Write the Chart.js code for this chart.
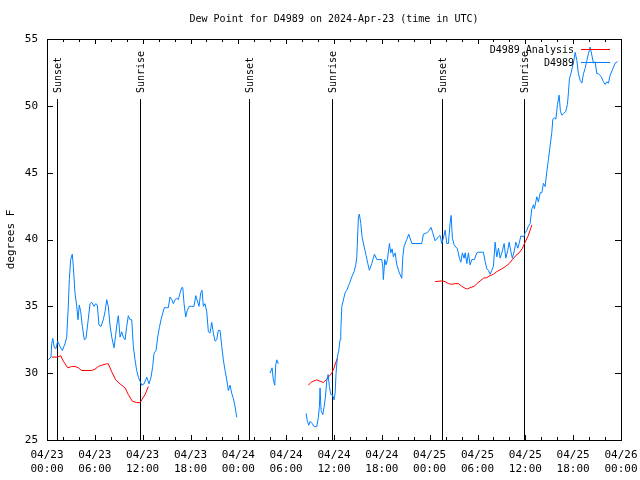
<!DOCTYPE html>
<html>
<head>
<meta charset="utf-8">
<script src="https://cdn.jsdelivr.net/npm/chart.js@4/dist/chart.umd.min.js"></script>
<style>
  html, body { margin: 0; padding: 0; background: #fff; }
  #wrap { width: 640px; height: 480px; }
</style>
</head>
<body>
<div id="wrap"><canvas id="dewChart" width="640" height="480"></canvas></div>
<script>
// hours since 04/23 00:00 UTC
const xTickHours = [0, 6, 12, 18, 24, 30, 36, 42, 48, 54, 60, 66, 72];
const xTickDates = ['04/23', '04/23', '04/23', '04/23', '04/24', '04/24', '04/24', '04/24', '04/25', '04/25', '04/25', '04/25', '04/26'];
const xTickTimes = ['00:00', '06:00', '12:00', '18:00', '00:00', '06:00', '12:00', '18:00', '00:00', '06:00', '12:00', '18:00', '00:00'];

const sunsetHours = [1.29, 25.4, 49.5];
const sunriseHours = [11.67, 35.8, 59.8];

// D4989 observations (null = no data)
const obsHours = [
  0.16, 0.50, 0.59, 0.72, 0.92, 1.13, 1.34, 1.63, 1.92, 2.26,
  2.47, 2.67, 2.80, 2.97, 3.17, 3.30, 3.51, 3.73, 3.89, 4.05,
  4.23, 4.43, 4.68, 4.89, 5.11, 5.40, 5.61, 5.90, 6.11, 6.31,
  6.52, 6.78, 7.06, 7.28, 7.49, 7.69, 7.90, 8.12, 8.41, 8.62,
  8.78, 8.95, 9.16, 9.37, 9.57, 9.79, 10.00, 10.20, 10.41, 10.63,
  10.83, 11.04, 11.25, 11.46, 11.67, 11.88, 12.17, 12.51, 12.80, 13.05,
  13.26, 13.43, 13.68, 13.89, 14.09, 14.30, 14.52, 14.72, 15.02, 15.22,
  15.43, 15.65, 15.85, 16.06, 16.27, 16.47, 16.69, 16.90, 17.03, 17.19,
  17.40, 17.60, 17.85, 18.16, 18.44, 18.66, 18.86, 19.07, 19.28, 19.45,
  19.61, 19.82, 20.04, 20.24, 20.45, 20.66, 20.87, 21.08, 21.29, 21.49,
  21.71, 21.92, 22.12, 22.33, 22.55, 22.75, 22.96, 23.17, 23.38, 23.59,
  23.80, 26.00,
  27.98, 28.23, 28.39, 28.57, 28.69, 28.82, 29.02, 30.50,
  32.50, 32.66, 32.84, 33.00, 33.25, 33.50, 33.84, 34.04, 34.17, 34.25,
  34.38, 34.59, 34.76, 34.92, 35.09, 35.26, 35.42, 35.60, 35.80, 36.01,
  36.14, 36.26, 36.42, 36.60, 36.76, 36.85, 36.98, 37.39, 37.60, 37.93,
  38.23, 38.52, 38.73, 38.86, 39.06, 39.18, 39.36, 39.52, 39.77, 40.03,
  40.24, 40.44, 40.74, 41.07, 41.37, 41.99, 42.12, 42.19, 42.37, 42.53,
  42.70, 42.95, 43.12, 43.29, 43.45, 43.66, 43.88, 44.20, 44.50, 44.63,
  44.79, 45.13, 45.38, 45.76, 47.01, 47.21, 47.64, 47.84, 48.18, 48.39,
  48.68, 49.10, 49.31, 49.52, 49.72, 49.94, 50.15, 50.35, 50.56, 50.69,
  50.85, 51.07, 51.48, 51.73, 51.91, 52.11, 52.32, 52.45, 52.66, 52.86,
  53.07, 53.29, 53.61, 53.91, 54.12, 54.74, 54.96, 55.17, 55.37, 55.58,
  55.80, 56.00, 56.21, 56.42, 56.63, 56.84, 57.05, 57.34, 57.55, 57.80,
  57.97, 58.22, 58.38, 58.63, 58.81, 59.06, 59.22, 59.44, 59.81, 59.97,
  60.19, 60.39, 60.60, 60.82, 61.02, 61.14, 61.44, 61.64, 61.86, 62.07,
  62.27, 62.48, 62.70, 62.90, 63.11, 63.32, 63.45, 63.65, 63.83, 64.03,
  64.24, 64.40, 64.58, 64.78, 65.08, 65.28, 65.41, 65.53, 65.71, 65.91,
  66.09, 66.25, 66.46, 66.66, 66.88, 67.09, 67.29, 67.50, 67.72, 67.92,
  68.13, 68.34, 68.54, 68.76, 68.97, 69.17, 69.51, 69.80, 70.01, 70.23,
  70.43, 70.64, 70.93, 71.27, 71.56
];
const obsDew = [
  31.0, 31.2, 32.2, 32.6, 31.9, 31.85, 32.4, 32.0, 31.7, 32.2,
  32.7, 35.0, 37.0, 38.5, 38.9, 38.0, 36.0, 35.0, 34.0, 35.1,
  34.6, 33.5, 32.5, 32.6, 33.7, 35.2, 35.3, 35.0, 35.2, 35.1,
  33.6, 33.5, 34.0, 34.6, 35.5, 35.0, 33.6, 32.7, 31.9, 32.9,
  33.7, 34.3, 32.7, 33.1, 32.7, 32.5, 33.5, 34.3, 34.0, 34.0,
  32.0, 31.0, 30.2, 29.7, 29.4, 29.1, 29.2, 29.7, 29.2, 29.7,
  30.5, 31.5, 31.7, 32.7, 33.4, 34.0, 34.5, 34.9, 34.9, 34.9,
  35.7, 35.5, 35.2, 35.5, 35.6, 35.5, 36.0, 36.4, 36.4, 35.2,
  34.2, 34.7, 35.0, 35.0, 35.0, 35.8, 35.4, 35.0, 36.0, 36.2,
  35.0, 35.2, 34.6, 33.1, 33.0, 33.8, 33.0, 32.4, 32.5, 33.2,
  33.2, 32.0, 31.0, 30.2, 29.5, 28.7, 29.1, 28.5, 28.1, 27.5,
  26.7, null,
  30.0, 30.4, 29.5, 29.1, 30.6, 31.0, 30.7, null,
  27.0, 26.4, 26.1, 26.4, 26.25, 26.0, 26.0, 26.7, 27.5, 28.9,
  27.2, 26.9, 27.5, 28.2, 29.4, 29.9, 29.0, 28.4, 28.4, 28.0,
  28.5, 30.0, 31.2, 31.7, 32.5, 33.1, 35.0, 36.0, 36.2, 36.7,
  37.2, 37.6, 38.1, 38.7, 41.7, 41.9, 41.2, 40.2, 39.5, 38.8,
  38.2, 37.7, 38.2, 38.9, 38.5, 38.5, 38.0, 37.0, 38.5, 38.1,
  38.5, 39.7, 39.0, 39.3, 38.7, 39.0, 38.1, 37.5, 37.1, 38.7,
  39.5, 40.0, 40.4, 39.7, 39.7, 40.4, 40.5, 40.6, 40.9, 40.5,
  39.9, 40.2, 40.3, 39.7, 40.1, 40.7, 39.7, 39.7, 41.2, 41.8,
  40.1, 39.6, 39.3, 38.6, 38.3, 39.0, 38.6, 39.0, 38.2, 39.0,
  38.1, 38.5, 38.5, 39.0, 39.05, 39.05, 38.35, 37.8, 37.7, 37.4,
  37.7, 38.0, 39.8, 38.7, 39.35, 38.6, 39.0, 39.7, 38.6, 39.2,
  39.8, 39.0, 38.6, 39.2, 39.8, 39.35, 39.7, 40.27, 40.2, 40.5,
  40.7, 41.0, 41.2, 42.3, 42.6, 42.3, 43.2, 42.8, 43.5, 43.5,
  44.2, 43.96, 45.1, 46.0, 47.0, 48.0, 49.0, 49.1, 49.0, 50.1,
  50.8, 49.6, 49.3, 49.4, 49.6, 50.1, 51.0, 52.0, 52.4, 52.9,
  53.4, 54.0, 53.4, 52.4, 51.9, 51.7, 52.4, 52.8, 53.4, 53.9,
  54.4, 53.8, 53.2, 53.3, 52.4, 52.4, 52.2, 51.8, 51.6, 51.8,
  51.7, 52.3, 52.7, 53.2, 53.3
];

// D4989 Analysis
const anaHours = [
  0.59, 1.22, 1.72, 2.05, 2.60, 3.10, 3.51, 3.93, 4.35, 4.77,
  5.61, 6.02, 6.44, 6.86, 7.49, 7.69, 8.12, 8.62, 9.16, 9.79,
  10.20, 10.70, 11.25, 11.67, 11.88, 12.30, 12.71, 20.00,
  32.79, 33.09, 33.41, 33.84, 34.25, 34.67, 35.01, 35.30, 35.72, 36.01,
  36.22, 36.42, 42.00,
  48.68, 49.52, 49.94, 50.35, 50.78, 51.19, 51.61, 52.03, 52.45, 52.74,
  53.07, 53.61, 53.91, 54.33, 54.74, 55.17, 55.58, 56.00, 56.42, 57.05,
  57.55, 57.97, 58.38, 58.81, 59.22, 59.64, 59.97, 60.31, 60.60, 60.82
];
const anaDew = [
  31.2, 31.2, 31.3, 30.9, 30.4, 30.5, 30.5, 30.4, 30.2, 30.2,
  30.2, 30.3, 30.5, 30.6, 30.7, 30.7, 30.1, 29.5, 29.2, 28.9,
  28.4, 27.9, 27.8, 27.8, 28.0, 28.4, 29.0, null,
  29.1, 29.3, 29.4, 29.5, 29.4, 29.3, 29.5, 29.7, 30.0, 30.4,
  30.8, 31.1, null,
  36.85, 36.9, 36.85, 36.7, 36.65, 36.7, 36.7, 36.5, 36.35, 36.3,
  36.4, 36.5, 36.7, 36.9, 37.1, 37.15, 37.3, 37.4, 37.6, 37.8,
  38.0, 38.2, 38.5, 38.8, 39.0, 39.35, 39.8, 40.2, 40.7, 41.1
];

const MONO = '"DejaVu Sans Mono", "Liberation Mono", monospace';
const blue = '#0080ff';
const red = '#ff0000';

function toPoints(hours, vals) {
  return hours.map((h, i) => ({ x: h, y: vals[i] }));
}

// gnuplot-ish frame: inward ticks on all four sides, sunrise/sunset markers, legend
const framePlugin = {
  id: 'frame',
  beforeDatasetsDraw(chart) {
    const { ctx, chartArea: a, scales: { x } } = chart;
    ctx.save();
    ctx.strokeStyle = '#000';
    ctx.lineWidth = 1;
    const lineTop = a.top + 60;
    const mark = (h, label) => {
      const px = Math.round(x.getPixelForValue(h)) + 0.5;
      ctx.beginPath();
      ctx.moveTo(px, a.bottom);
      ctx.lineTo(px, lineTop);
      ctx.stroke();
      ctx.save();
      ctx.translate(px + 1, lineTop - 6);
      ctx.rotate(-Math.PI / 2);
      ctx.font = '10px ' + MONO;
      ctx.fillStyle = '#000';
      ctx.textAlign = 'left';
      ctx.textBaseline = 'middle';
      ctx.fillText(label, 0, 0);
      ctx.restore();
    };
    sunsetHours.forEach(h => mark(h, 'Sunset'));
    sunriseHours.forEach(h => mark(h, 'Sunrise'));
    ctx.restore();
  },
  afterDraw(chart) {
    const { ctx, chartArea: a, scales: { x, y } } = chart;
    ctx.save();
    ctx.strokeStyle = '#000';
    ctx.lineWidth = 1;
    ctx.strokeRect(Math.round(a.left) + 0.5, Math.round(a.top) + 0.5,
      Math.round(a.right - a.left), Math.round(a.bottom - a.top));
    ctx.beginPath();
    for (let h = 0; h <= 72; h += 2) {
      const px = Math.round(x.getPixelForValue(h)) + 0.5;
      const len = h % 6 === 0 ? 5 : 3;
      ctx.moveTo(px, a.bottom); ctx.lineTo(px, a.bottom - len);
      ctx.moveTo(px, a.top); ctx.lineTo(px, a.top + len);
    }
    for (let v = 25; v <= 55; v += 5) {
      const py = Math.round(y.getPixelForValue(v)) + 0.5;
      ctx.moveTo(a.left, py); ctx.lineTo(a.left + 6, py);
      ctx.moveTo(a.right, py); ctx.lineTo(a.right - 6, py);
    }
    ctx.stroke();

    // legend
    ctx.font = '10px ' + MONO;
    ctx.fillStyle = '#000';
    ctx.textAlign = 'right';
    ctx.textBaseline = 'middle';
    const rows = [['D4989 Analysis', red, 50], ['D4989', blue, 63]];
    rows.forEach(([txt, col, ry]) => {
      ctx.fillText(txt, a.right - 47, ry);
      ctx.strokeStyle = col;
      ctx.beginPath();
      ctx.moveTo(a.right - 40, ry - 0.5);
      ctx.lineTo(a.right - 11, ry - 0.5);
      ctx.stroke();
    });
    ctx.restore();
  }
};

new Chart(document.getElementById('dewChart'), {
  type: 'scatter',
  data: {
    datasets: [
      {
        label: 'D4989',
        data: toPoints(obsHours, obsDew),
        showLine: true,
        spanGaps: false,
        borderColor: blue,
        borderWidth: 1,
        pointRadius: 0,
        tension: 0
      },
      {
        label: 'D4989 Analysis',
        data: toPoints(anaHours, anaDew),
        showLine: true,
        spanGaps: false,
        borderColor: red,
        borderWidth: 1,
        pointRadius: 0,
        tension: 0
      }
    ]
  },
  options: {
    responsive: false,
    animation: false,
    layout: { padding: { left: 0, right: 19, top: 0, bottom: 0 } },
    plugins: {
      legend: { display: false },
      tooltip: { enabled: false },
      title: {
        display: true,
        fullSize: false,
        text: 'Dew Point for D4989 on 2024-Apr-23 (time in UTC)',
        color: '#000',
        font: { family: MONO, size: 10, weight: 'normal', lineHeight: 1.2 },
        padding: { top: 13, bottom: 14 }
      }
    },
    scales: {
      x: {
        type: 'linear',
        min: 0, max: 72,
        afterFit(scale) { scale.height = 40; scale.paddingLeft = 0; scale.paddingRight = 0; },
        afterBuildTicks(scale) { scale.ticks = xTickHours.map(v => ({ value: v })); },
        grid: { display: false, drawTicks: false },
        border: { display: false },
        ticks: {
          autoSkip: false, maxRotation: 0, minRotation: 0,
          padding: 8,
          color: '#000',
          font: { family: MONO, size: 11, lineHeight: 1.3 },
          callback(value) {
            const i = xTickHours.indexOf(value);
            return i < 0 ? '' : [xTickDates[i], xTickTimes[i]];
          }
        }
      },
      y: {
        min: 25, max: 55,
        afterFit(scale) { scale.width = 47; },
        grid: { display: false, drawTicks: false },
        border: { display: false },
        ticks: {
          stepSize: 5,
          padding: 9,
          color: '#000',
          font: { family: MONO, size: 11 }
        },
        title: {
          display: true,
          text: 'degrees F',
          color: '#000',
          font: { family: MONO, size: 11, lineHeight: 1.2 },
          padding: { top: 5, bottom: 0 }
        }
      }
    }
  },
  plugins: [framePlugin]
});
</script>
</body>
</html>
